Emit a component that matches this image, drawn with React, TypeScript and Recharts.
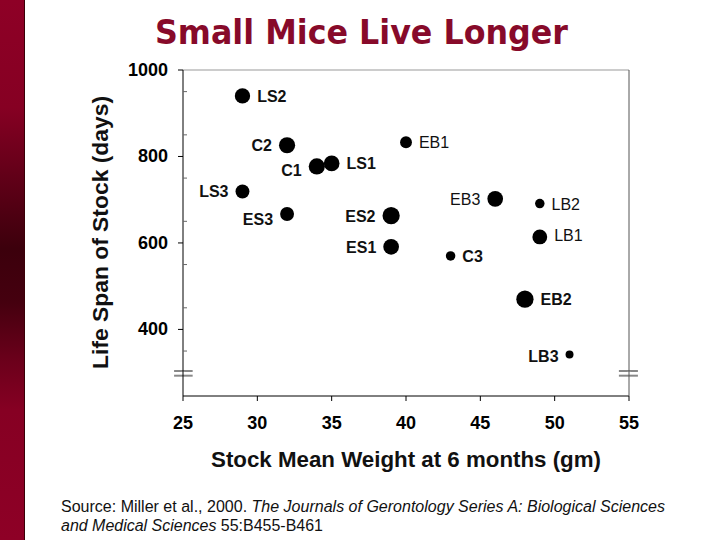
import { ScatterChart, Scatter, XAxis, YAxis, ZAxis, ReferenceLine, Label } from "recharts"

// strains, mean weight at 6 months (gm), life span (days), dot size (relative)
const strains = ["LS2", "C2", "C1", "LS1", "EB1", "LS3", "ES3", "ES2", "ES1", "EB3", "LB2", "LB1", "C3", "EB2", "LB3"]
const weights = [29, 32, 34, 35, 40, 29, 32, 39, 39, 46, 49, 49, 43, 48, 51]
const lifespans = [940, 826, 777, 784, 833, 719, 667, 663, 591, 702, 691, 614, 570, 470, 342]
const dotSizes = [7.3, 7.8, 7.8, 7.5, 5.5, 6.5, 6.5, 8.5, 7.5, 7.5, 4.5, 7, 4.5, 8.5, 4]

const xTicks = [25, 30, 35, 40, 45, 50, 55]
const yMajorTicks = [400, 600, 800, 1000]
const yMinorTicks = [350, 450, 550, 650, 750, 850, 950]

const points = strains.map((name, i) => ({ name, weight: weights[i], life: lifespans[i], dot: dotSizes[i] }))

// label placement
const leftLabels = ["C2", "C1", "LS3", "ES3", "ES2", "ES1", "EB3", "LB3"]
const lightLabels = ["EB1", "EB3", "LB2", "LB1"]
const labelDy: Record<string, number> = { C1: 4, ES3: 5, LB3: 2, LB1: -2 }

const FONT = "'Liberation Sans', Arial, sans-serif"

const StrainDot = (props: any) => {
  const { cx, cy, payload } = props
  const r = Math.sqrt((props.size ?? 150) / Math.PI)
  const left = leftLabels.includes(payload.name)
  const gap = r + 7
  return (
    <g>
      <circle cx={cx} cy={cy} r={r} fill="#000" />
      <text
        x={left ? cx - gap : cx + gap}
        y={cy + 6 + (labelDy[payload.name] ?? 0)}
        textAnchor={left ? "end" : "start"}
        fontFamily={FONT}
        fontSize={16}
        fontWeight={lightLabels.includes(payload.name) ? "normal" : "bold"}
        fill="#111"
      >
        {payload.name}
      </text>
    </g>
  )
}

const LeftTick = (props: any) => {
  const { x, y, payload } = props
  const v = payload.value
  const ax = x + 15
  if (yMajorTicks.includes(v)) {
    return (
      <g>
        <line x1={ax - 5} x2={ax} y1={y} y2={y} stroke="#000" />
        <text x={x} y={y + 6} textAnchor="end" fontFamily={FONT} fontWeight="bold" fontSize={18} fill="#000">
          {v}
        </text>
      </g>
    )
  }
  return <line x1={ax} x2={ax + 4} y1={y} y2={y} stroke="#666" />
}

const RightTick = (props: any) => {
  const { x, y } = props
  return <line x1={x - 3} x2={x} y1={y} y2={y} stroke="#666" />
}

export default function App() {
  return (
    <div style={{ position: "absolute", left: 0, top: 0, width: 720, height: 540, background: "#fff", fontFamily: FONT }}>
      <div
        style={{
          position: "absolute",
          left: 0,
          top: 0,
          width: 24,
          height: 540,
          borderRight: "1px solid #3a0008",
          background:
            "linear-gradient(to bottom, #8e0026 0%, #860023 20%, #5e0017 34%, #3c000c 46%, #45000f 56%, #6c001b 67%, #860023 76%, #8e0026 100%)",
        }}
      />
      <svg width={720} height={540} style={{ position: "absolute", left: 0, top: 0 }}>
        <text
          x={155}
          y={44}
          textLength={413}
          lengthAdjust="spacingAndGlyphs"
          fontFamily="'DejaVu Sans', Verdana, sans-serif"
          fontWeight="bold"
          fontSize={34}
          fill="#870a2a"
        >
          Small Mice Live Longer
        </text>
        <text x={61} y={512} textLength={604} lengthAdjust="spacingAndGlyphs" fontFamily={FONT} fontSize={16} fill="#111">
          Source: Miller et al., 2000. <tspan fontStyle="italic">The Journals of Gerontology Series A: Biological Sciences</tspan>
        </text>
        <text x={61} y={531} textLength={262} lengthAdjust="spacingAndGlyphs" fontFamily={FONT} fontSize={16} fill="#111">
          <tspan fontStyle="italic">and Medical Sciences</tspan> 55:B455-B461
        </text>
      </svg>
      <div style={{ position: "absolute", left: 0, top: 0 }}>
        <ScatterChart width={720} height={540} margin={{ top: 69, right: 81, bottom: 74, left: 83 }}>
          <XAxis
            dataKey="weight"
            type="number"
            domain={[25, 55]}
            ticks={xTicks}
            interval={0}
            allowDataOverflow
            height={70}
            tickSize={5}
            tickMargin={15}
            stroke="#000"
            tick={{ fill: "#000", fontSize: 18, fontWeight: "bold", fontFamily: FONT }}
          >
            <Label
              content={({ viewBox }: any) => (
                <text
                  x={viewBox.x + viewBox.width / 2 - 195}
                  y={viewBox.y + 71}
                  textLength={390}
                  lengthAdjust="spacingAndGlyphs"
                  fontFamily={FONT}
                  fontWeight="bold"
                  fontSize={22}
                  fill="#111"
                >
                  Stock Mean Weight at 6 months (gm)
                </text>
              )}
            />
          </XAxis>
          <XAxis xAxisId="top" orientation="top" type="number" domain={[25, 55]} height={1} tick={false} tickLine={false} stroke="#999" />
          <YAxis
            dataKey="life"
            type="number"
            domain={[246, 1000]}
            ticks={[...yMinorTicks, ...yMajorTicks].sort((a, b) => a - b)}
            interval={0}
            allowDataOverflow
            width={100}
            tickSize={5}
            tickMargin={10}
            tickLine={false}
            stroke="#000"
            tick={<LeftTick />}
          >
            <Label
              content={({ viewBox }: any) => {
                const lx = viewBox.x + 25
                const ly = viewBox.y + viewBox.height / 2
                return (
                  <text
                    x={lx - 136}
                    y={ly}
                    transform={`rotate(-90, ${lx}, ${ly})`}
                    textLength={273}
                    lengthAdjust="spacingAndGlyphs"
                    fontFamily={FONT}
                    fontWeight="bold"
                    fontSize={22}
                    fill="#111"
                  >
                    Life Span of Stock (days)
                  </text>
                )
              }}
            />
          </YAxis>
          <YAxis
            yAxisId="right"
            orientation="right"
            type="number"
            domain={[246, 1000]}
            ticks={yMinorTicks}
            interval={0}
            width={10}
            tickSize={0}
            tickMargin={0}
            tickLine={false}
            stroke="#555"
            tick={<RightTick />}
          />
          <ZAxis dataKey="dot" type="number" domain={[4, 9]} range={[50, 254]} />
          <ReferenceLine segment={[{ x: 24.4, y: 303.8 }, { x: 25.65, y: 303.8 }]} stroke="#888" strokeWidth={2} ifOverflow="visible" />
          <ReferenceLine segment={[{ x: 24.9, y: 298.5 }, { x: 25.1, y: 298.5 }]} stroke="#fff" strokeWidth={3} ifOverflow="visible" />
          <ReferenceLine segment={[{ x: 24.4, y: 293 }, { x: 25.65, y: 293 }]} stroke="#888" strokeWidth={2} ifOverflow="visible" />
          <ReferenceLine segment={[{ x: 54.32, y: 303.8 }, { x: 55.6, y: 303.8 }]} stroke="#888" strokeWidth={2} ifOverflow="visible" />
          <ReferenceLine segment={[{ x: 54.9, y: 298.5 }, { x: 55.1, y: 298.5 }]} stroke="#fff" strokeWidth={3} ifOverflow="visible" />
          <ReferenceLine segment={[{ x: 54.32, y: 293 }, { x: 55.6, y: 293 }]} stroke="#888" strokeWidth={2} ifOverflow="visible" />
          <Scatter data={points} shape={<StrainDot />} isAnimationActive={false} />
        </ScatterChart>
      </div>
    </div>
  )
}
